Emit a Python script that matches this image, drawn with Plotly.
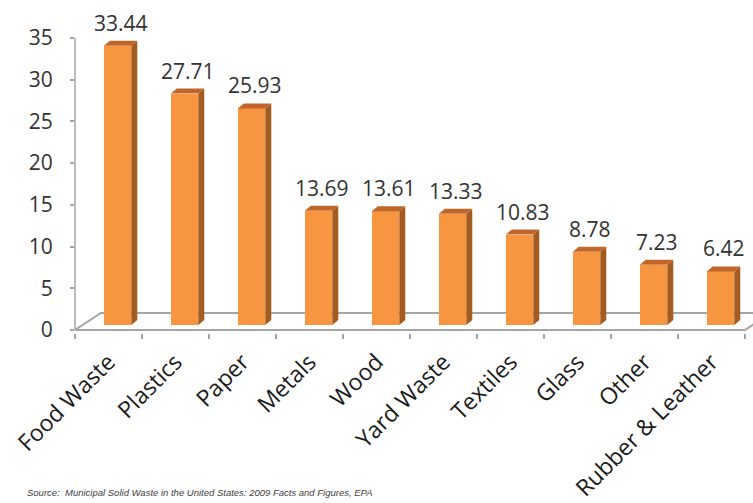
import plotly.graph_objects as go

categories = ["Food Waste", "Plastics", "Paper", "Metals", "Wood", "Yard Waste",
              "Textiles", "Glass", "Other", "Rubber & Leather"]
values = [33.44, 27.71, 25.93, 13.69, 13.61, 13.33, 10.83, 8.78, 7.23, 6.42]
y_ticks = [0, 5, 10, 15, 20, 25, 30, 35]
source_text = "Source:  Municipal Solid Waste in the United States: 2009 Facts and Figures, EPA"

# styling / geometry (pixel-derived constants)
W, H = 753, 503
ML, MR, MT, MB = 75, 0, 8, 170
PX_X = 67.0          # px per category
PX_Y = 8.35          # px per unit
BAR_OFF, BAR_W = -0.07, 0.41
DX, DY = 6 / PX_X, 5 / PX_Y          # bar depth
FX, FY = 26 / PX_X, 17 / PX_Y        # floor depth
FRONT, SIDE, TOP = "#F79540", "#A35B1F", "#C0662A"
GRAY = "#A6A6A6"
FONT = "Open Sans"

plot_w = W - ML - MR
plot_h = H - MT - MB
x_range = [-0.5, -0.5 + plot_w / PX_X]
y_bottom = -3 / PX_Y
y_range = [y_bottom, y_bottom + plot_h / PX_Y]
y2_bottom = -8 / PX_Y
y2_range = [y2_bottom, y2_bottom + plot_h / PX_Y]

xs = list(range(len(categories)))

fig = go.Figure()
fig.add_trace(go.Bar(x=xs, y=values, width=BAR_W, offset=BAR_OFF,
                     marker=dict(color=FRONT, line=dict(width=0)),
                     yaxis="y2", hoverinfo="skip", showlegend=False))

shapes = []
# floor
n = len(categories)
shapes.append(dict(type="path", xref="x", yref="y", layer="below",
                   path=f"M -0.5,0 L {n - 0.5},0 L {n - 0.5 + FX},{FY} L {-0.5 + FX},{FY} Z",
                   line=dict(color=GRAY, width=2), fillcolor="rgba(0,0,0,0)"))
# y axis line
shapes.append(dict(type="line", xref="paper", yref="y", x0=0, x1=0,
                   y0=0, y1=max(y_ticks), line=dict(color=GRAY, width=1.5)))

annotations = []
for i, v in zip(xs, values):
    x0 = i + BAR_OFF
    x1 = x0 + BAR_W
    shapes.append(dict(type="path", xref="x", yref="y2",
                       path=f"M {x1},0 L {x1},{v} L {x1 + DX},{v + DY} L {x1 + DX},{DY} Z",
                       line=dict(width=0), fillcolor=SIDE))
    shapes.append(dict(type="path", xref="x", yref="y2",
                       path=f"M {x0},{v} L {x1},{v} L {x1 + DX},{v + DY} L {x0 + DX},{v + DY} Z",
                       line=dict(width=0), fillcolor=TOP))
    annotations.append(dict(x=(x0 + x1) / 2 + DX / 2, y=v, xref="x", yref="y2",
                            text=f"{v:.2f}", showarrow=False, yanchor="middle",
                            yshift=23, font=dict(family=FONT, size=21, color="#333333")))

annotations.append(dict(x=0, y=0, xref="paper", yref="paper", xanchor="left",
                        yanchor="middle", xshift=-50, yshift=-159, showarrow=False,
                        text=f"<i>{source_text}</i>",
                        font=dict(family="Liberation Sans", size=9.5, color="#404040")))

fig.update_layout(
    width=W, height=H,
    margin=dict(l=ML, r=MR, t=MT, b=MB, autoexpand=False),
    paper_bgcolor="white", plot_bgcolor="white",
    shapes=shapes, annotations=annotations,
    bargap=0,
    xaxis=dict(range=x_range, tickvals=xs, ticktext=categories, tickangle=-45,
               ticks="", showgrid=False, zeroline=False, showline=False,
               ticklabelstandoff=10, automargin=False,
               tickfont=dict(family=FONT, size=23, color="#1a1a1a"),
               minor=dict(tickvals=[i - 0.5 for i in range(n + 1)], ticks="outside",
                          ticklen=5, tickwidth=1.5, tickcolor=GRAY, showgrid=False)),
    yaxis=dict(range=y_range, tickvals=y_ticks, ticks="outside", ticklen=4,
               tickwidth=1.5, tickcolor=GRAY, showgrid=False, zeroline=False,
               showline=False, ticklabelstandoff=13, automargin=False,
               tickfont=dict(family=FONT, size=21, color="#333333")),
    yaxis2=dict(range=y2_range, overlaying="y", visible=False, showgrid=False,
                zeroline=False),
)

fig.write_html("out.html", config={"displayModeBar": False},
               post_script="document.body.style.margin='0';document.body.style.overflow='hidden';")
